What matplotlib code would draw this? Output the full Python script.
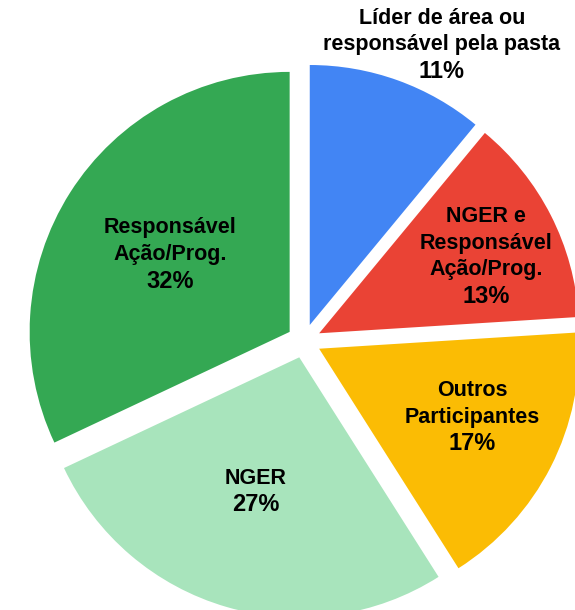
import matplotlib
matplotlib.use('Agg')
from matplotlib import pyplot as plt

# data
names = ['Líder de área ou\nresponsável pela pasta',
         'NGER e\nResponsável\nAção/Prog.',
         'Outros\nParticipantes',
         'NGER',
         'Responsável\nAção/Prog.']
values = [11, 13, 17, 27, 32]
colors = ['#4285F4', '#EA4335', '#FBBC04', '#A8E4BC', '#34A853']

plt.rcParams['font.family'] = ['Liberation Sans', 'DejaVu Sans']

fig = plt.figure(figsize=(5.75, 6.1), dpi=100)
ax = fig.add_axes([0, 0, 1, 1])

# pie in "pixel" units, y measured from the bottom
cx, cy, r = 304, 269, 260
gap = 17   # explode offset (absolute, data units)
ax.pie(values, colors=colors, startangle=90, counterclock=False,
       explode=[gap] * len(values), center=(cx, cy), radius=r,
       wedgeprops=dict(linewidth=0))
ax.set_xlim(0, 575)
ax.set_ylim(0, 610)
ax.set_aspect('equal')
ax.axis('off')

# label anchors (x, y of the first line, from the top of the image)
label_pos = [(442, 18), (486, 217), (472, 391), (256, 478), (170, 228)]
line_h = 26.5
for nm, v, (x, ytop) in zip(names, values, label_pos):
    lines = nm.split('\n')
    for k, ln in enumerate(lines):
        ax.text(x, 610 - (ytop + k * line_h), ln, ha='center', va='center',
                fontsize=15.5, fontweight='bold', color='black')
    ax.text(x, 610 - (ytop + len(lines) * line_h), '{:d}%'.format(v),
            ha='center', va='center', fontsize=17, fontweight='bold',
            color='black')

plt.savefig('out.png', dpi=100)
plt.close(fig)
